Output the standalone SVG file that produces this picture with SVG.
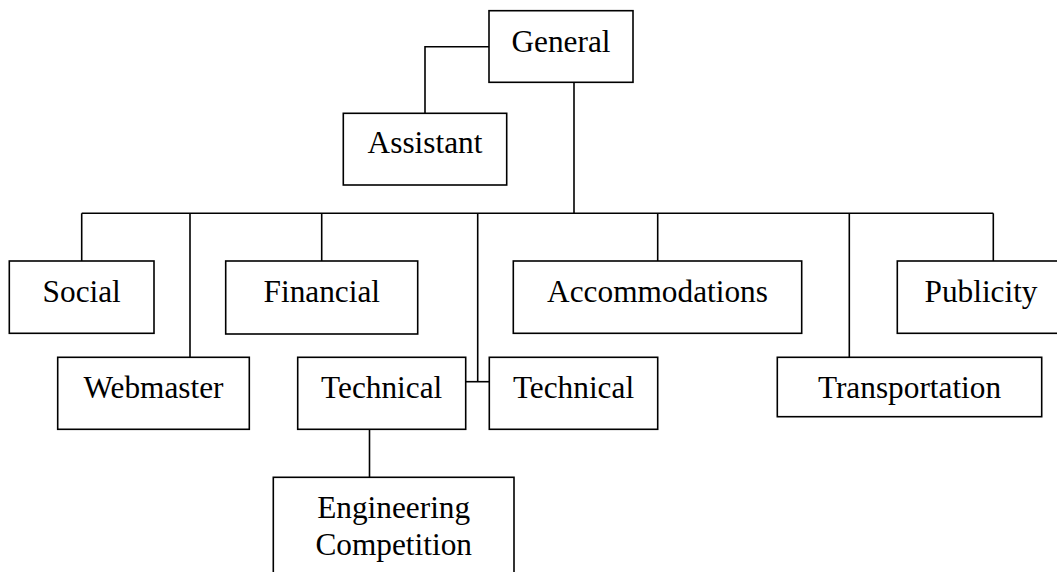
<svg xmlns="http://www.w3.org/2000/svg" width="1057" height="572" viewBox="0 0 1057 572">
<style>
rect{fill:#fff;stroke:#000;stroke-width:1.6}
path{fill:none;stroke:#000;stroke-width:1.6}
text{font-family:"Liberation Serif","Times New Roman",serif;font-size:31.3px;fill:#000;text-anchor:middle}
</style>
<rect x="0" y="0" width="1057" height="572" style="stroke:none"/>
<g id="connectors">
<path d="M489 46.7H425V113.3"/>
<path d="M574 82.3V213.3"/>
<path d="M81.7 213.3H993.3"/>
<path d="M81.7 213.3V261"/>
<path d="M190 213.3V357.3"/>
<path d="M321.7 213.3V261"/>
<path d="M477.7 213.3V381.7"/>
<path d="M465.7 381.7H489.3"/>
<path d="M657.7 213.3V261"/>
<path d="M849.3 213.3V357.3"/>
<path d="M993.3 213.3V261"/>
<path d="M369.5 429.3V477.3"/>
</g>
<g id="general"><rect x="489" y="10.7" width="144" height="71.6"/><text x="561" y="51.7">General</text></g>
<g id="assistant"><rect x="343.3" y="113.3" width="163.4" height="71.7"/><text x="425" y="153.3">Assistant</text></g>
<g id="social"><rect x="9.3" y="261" width="144.7" height="72.3"/><text x="81.7" y="301.7">Social</text></g>
<g id="financial"><rect x="225.7" y="261" width="192" height="73"/><text x="321.8" y="301.7">Financial</text></g>
<g id="accommodations"><rect x="513.3" y="261" width="288.4" height="72.3"/><text x="657.5" y="301.7">Accommodations</text></g>
<g id="publicity"><rect x="897.3" y="261" width="168" height="72.3"/><text x="981" y="301.7">Publicity</text></g>
<g id="webmaster"><rect x="57.7" y="357.3" width="191.6" height="72"/><text x="153.5" y="398.3">Webmaster</text></g>
<g id="technical-left"><rect x="297.7" y="357.3" width="168" height="72"/><text x="381.7" y="398.3">Technical</text></g>
<g id="technical-right"><rect x="489.3" y="357.3" width="168.4" height="72"/><text x="573.5" y="398.3">Technical</text></g>
<g id="transportation"><rect x="777.3" y="357.3" width="264.4" height="59.4"/><text x="909.5" y="398.3">Transportation</text></g>
<g id="engineering-competition"><rect x="273.3" y="477.3" width="240.7" height="110"/><text x="393.7" y="518.3">Engineering</text><text x="393.7" y="555">Competition</text></g>
</svg>
